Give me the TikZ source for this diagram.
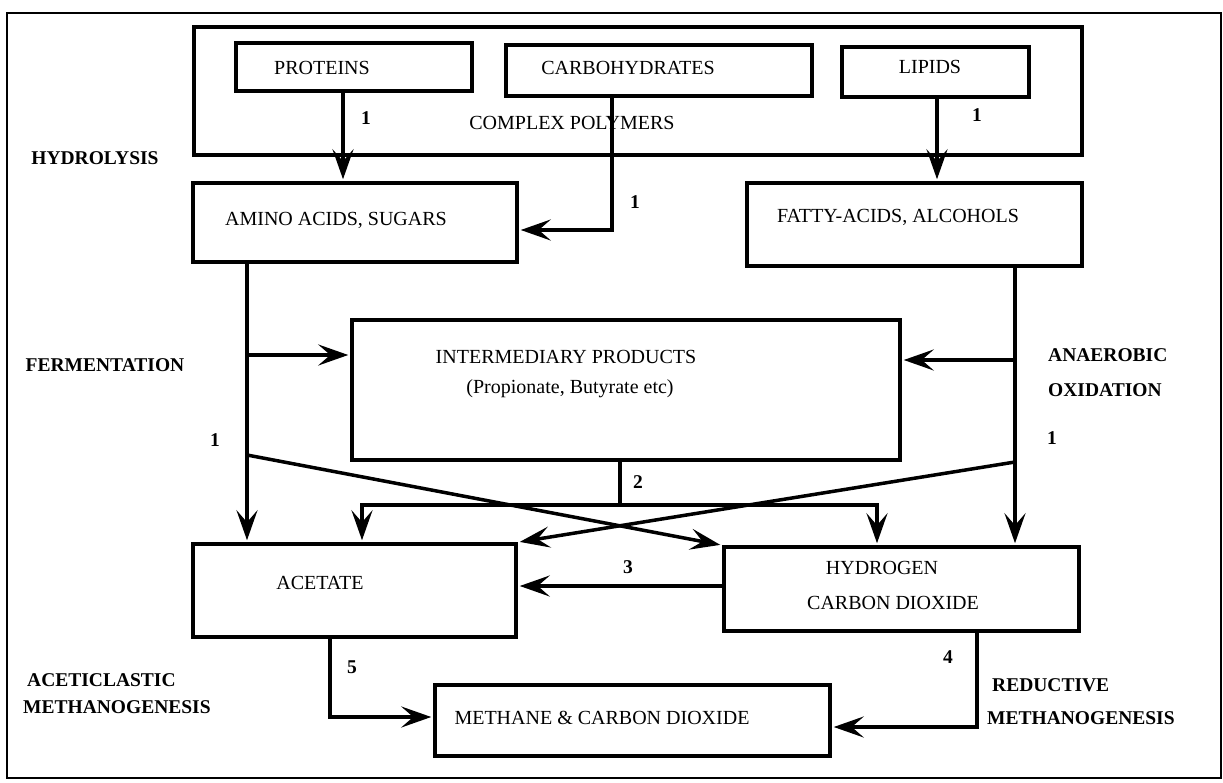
\documentclass[tikz,border=0pt]{standalone}
\usepackage{fontspec}
\setmainfont{Liberation Serif}
\usetikzlibrary{arrows.meta}
\begin{document}
\begin{tikzpicture}[x=1pt,y=-1pt,
  box/.style={draw, line width=3.5pt, rectangle, inner sep=0pt},
  txt/.style={font=\fontsize{20}{24}\selectfont, inner sep=0pt},
  lbl/.style={font=\fontsize{19.5}{24}\selectfont\bfseries, inner sep=0pt},
  con/.style={line width=3.5pt},
  arr/.style={line width=3.5pt, -{Stealth[length=30pt,width=21pt,inset=12pt]}, shorten >=2pt},
]
\useasboundingbox (0,0) rectangle (1223,783);

% boxes
\node[box, line width=2.2pt, minimum width=1214pt, minimum height=765pt] (frame) at (614,395.5) {};
\node[box, minimum width=888pt, minimum height=128pt] (complex) at (638,91) {};
\node[box, minimum width=236pt, minimum height=48pt] (prot) at (354,67) {};
\node[box, minimum width=306pt, minimum height=51pt] (carb) at (659,70.5) {};
\node[box, minimum width=187pt, minimum height=50pt] (lip) at (935.5,72) {};
\node[box, minimum width=324pt, minimum height=79pt] (amino) at (355,222.5) {};
\node[box, minimum width=335pt, minimum height=83pt] (fatty) at (914.5,224.5) {};
\node[box, minimum width=548pt, minimum height=140pt] (inter) at (626,390) {};
\node[box, minimum width=323pt, minimum height=93pt] (acet) at (354.5,590.5) {};
\node[box, minimum width=355pt, minimum height=84pt] (hydro) at (901.5,589) {};
\node[box, minimum width=395pt, minimum height=71pt] (meth) at (632.5,720.5) {};

% box texts
\node[txt] (protT) at (322,68) {PROTEINS};
\node[txt] (carbT) at (628,68) {CARBOHYDRATES};
\node[txt] (lipT) at (930,67) {LIPIDS};
\node[txt] (complexT) at (572,123) {COMPLEX POLYMERS};
\node[txt] (aminoT) at (336,220) {AMINO ACIDS, SUGARS};
\node[txt] (fattyT) at (898,217) {FATTY-ACIDS, ALCOHOLS};
\node[txt] (interT) at (566,357) {INTERMEDIARY PRODUCTS};
\node[txt] (interT2) at (570,389) {(Propionate, Butyrate etc)};
\node[txt] (acetT) at (320,583) {ACETATE};
\node[txt] (hydroT) at (882,568) {HYDROGEN};
\node[txt] (hydroT2) at (893,603) {CARBON DIOXIDE};
\node[txt] (methT) at (602,718) {METHANE \& CARBON DIOXIDE};

% side labels
\node[lbl] (hydrolysis) at (95,158) {HYDROLYSIS};
\node[lbl] (ferm) at (105,365) {FERMENTATION};
\node[lbl, anchor=west] (anaer) at (1048,355) {ANAEROBIC};
\node[lbl, anchor=west] (oxid) at (1048,390) {OXIDATION};
\node[lbl, anchor=west] (acetic) at (27,680) {ACETICLASTIC};
\node[lbl, anchor=west] (methA) at (23,707) {METHANOGENESIS};
\node[lbl, anchor=west] (reduct) at (992,685) {REDUCTIVE};
\node[lbl, anchor=west] (methR) at (987,718) {METHANOGENESIS};

% numbers
\node[lbl] (n1a) at (366,118) {1};
\node[lbl] (n1b) at (977,115) {1};
\node[lbl] (n1c) at (635,202) {1};
\node[lbl] (n1d) at (215,440) {1};
\node[lbl] (n1e) at (1052,438) {1};
\node[lbl] (n2) at (638,482) {2};
\node[lbl] (n3) at (628,567) {3};
\node[lbl] (n4) at (948,657) {4};
\node[lbl] (n5) at (352,667) {5};

% helper coordinates
\coordinate (xP) at (343,0);
\coordinate (xL) at (937,0);
\coordinate (xC) at (612,0);
\coordinate (yC) at (0,230);
\coordinate (xA) at (247,0);
\coordinate (xF) at (1015,0);
\coordinate (yFl) at (0,355);
\coordinate (yFr) at (0,360);
\coordinate (dA) at (247,455);
\coordinate (dF) at (1015,462);
\coordinate (x2) at (620,0);
\coordinate (j2) at (620,505);
\coordinate (x2l) at (362,0);
\coordinate (x2r) at (877,0);
\coordinate (y3) at (0,586);
\coordinate (x5) at (330,0);
\coordinate (y5) at (0,717);
\coordinate (x4) at (977,0);
\coordinate (y4) at (0,727);

% connectors
\draw[arr] (prot.south -| xP) -- (amino.north -| xP);
\draw[arr] (lip.south -| xL) -- (fatty.north -| xL);
\draw[arr] (carb.south -| xC) -- (xC |- yC) -- (amino.east |- yC);
\draw[arr] (amino.south -| xA) -- (acet.north -| xA);
\draw[arr] (xA |- yFl) -- (inter.west |- yFl);
\draw[arr] (fatty.south -| xF) -- (hydro.north -| xF);
\draw[arr] (xF |- yFr) -- (inter.east |- yFr);
\draw[arr] (dA) -- (hydro.north west);
\draw[arr] (dF) -- (acet.north east);
\draw[con] (inter.south -| x2) -- (j2);
\draw[arr] (j2) -| (acet.north -| x2l);
\draw[arr] (j2) -| (hydro.north -| x2r);
\draw[arr] (hydro.west |- y3) -- (acet.east |- y3);
\draw[arr] (acet.south -| x5) |- (meth.west |- y5);
\draw[arr] (hydro.south -| x4) |- (meth.east |- y4);
\end{tikzpicture}
\end{document}
